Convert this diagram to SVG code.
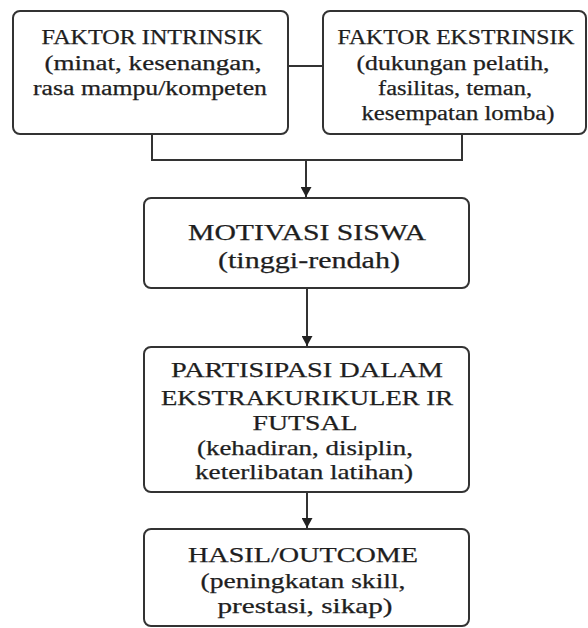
<svg xmlns="http://www.w3.org/2000/svg" width="588" height="628" viewBox="0 0 588 628">
<defs>
<style>
.box{fill:#fff;stroke:#333;stroke-width:2}
.t{font-family:"Liberation Serif","Times New Roman",serif;fill:#1e1e1e;text-anchor:middle;stroke:#1e1e1e;stroke-width:0.25}
.s19{font-size:20px}
.s22{font-size:24px}
.s20{font-size:21px}
.c{fill:none;stroke:#333;stroke-width:2}
</style>
<marker id="arr" markerWidth="12" markerHeight="11" refX="11" refY="6" orient="auto" markerUnits="userSpaceOnUse" viewBox="0 0 12 12">
<path d="M0,0 L11,6 L0,12 Z" fill="#222"/>
</marker>
</defs>
<rect width="588" height="628" fill="#fff"/>
<g id="connectors">
<line class="c" x1="288" y1="66" x2="323" y2="66"/>
<polyline class="c" points="152,135 152,160 462,160 462,135"/>
<line class="c" x1="306" y1="160" x2="306" y2="197" marker-end="url(#arr)"/>
<line class="c" x1="307" y1="288" x2="307" y2="346" marker-end="url(#arr)"/>
<line class="c" x1="307" y1="492" x2="307" y2="528" marker-end="url(#arr)"/>
</g>
<g id="intrinsik">
<rect class="box" x="13" y="11" width="275" height="123" rx="7"/>
<text class="t s19" x="152" y="44" textLength="221" lengthAdjust="spacingAndGlyphs">FAKTOR INTRINSIK</text>
<text class="t s19" x="153" y="70" textLength="217" lengthAdjust="spacingAndGlyphs">(minat,  kesenangan,</text>
<text class="t s19" x="150" y="95" textLength="234" lengthAdjust="spacingAndGlyphs">rasa mampu/kompeten</text>
</g>
<g id="ekstrinsik">
<rect class="box" x="323" y="11" width="263" height="123" rx="7"/>
<text class="t s19" x="456" y="44" textLength="237" lengthAdjust="spacingAndGlyphs">FAKTOR EKSTRINSIK</text>
<text class="t s19" x="453" y="70" textLength="193" lengthAdjust="spacingAndGlyphs">(dukungan pelatih,</text>
<text class="t s19" x="455" y="95" textLength="154" lengthAdjust="spacingAndGlyphs">fasilitas, teman,</text>
<text class="t s19" x="458" y="120" textLength="193" lengthAdjust="spacingAndGlyphs">kesempatan lomba)</text>
</g>
<g id="motivasi">
<rect class="box" x="144" y="198" width="325" height="90" rx="7"/>
<text class="t s22" x="307" y="240" textLength="238" lengthAdjust="spacingAndGlyphs">MOTIVASI SISWA</text>
<text class="t s22" x="309" y="268" textLength="182" lengthAdjust="spacingAndGlyphs">(tinggi-rendah)</text>
</g>
<g id="partisipasi">
<rect class="box" x="144" y="347" width="325" height="145" rx="7"/>
<text class="t s20" x="307" y="377" textLength="272" lengthAdjust="spacingAndGlyphs">PARTISIPASI DALAM</text>
<text class="t s20" x="307" y="405" textLength="292" lengthAdjust="spacingAndGlyphs">EKSTRAKURIKULER IR</text>
<text class="t s20" x="305" y="430" textLength="105" lengthAdjust="spacingAndGlyphs">FUTSAL</text>
<text class="t s20" x="305" y="455" textLength="216" lengthAdjust="spacingAndGlyphs">(kehadiran, disiplin,</text>
<text class="t s20" x="304" y="479" textLength="218" lengthAdjust="spacingAndGlyphs">keterlibatan latihan)</text>
</g>
<g id="hasil">
<rect class="box" x="144" y="529" width="325" height="97" rx="7"/>
<text class="t s20" x="303" y="562" textLength="230" lengthAdjust="spacingAndGlyphs">HASIL/OUTCOME</text>
<text class="t s20" x="303" y="588" textLength="205" lengthAdjust="spacingAndGlyphs">(peningkatan skill,</text>
<text class="t s20" x="305" y="613" textLength="175" lengthAdjust="spacingAndGlyphs">prestasi, sikap)</text>
</g>
</svg>
